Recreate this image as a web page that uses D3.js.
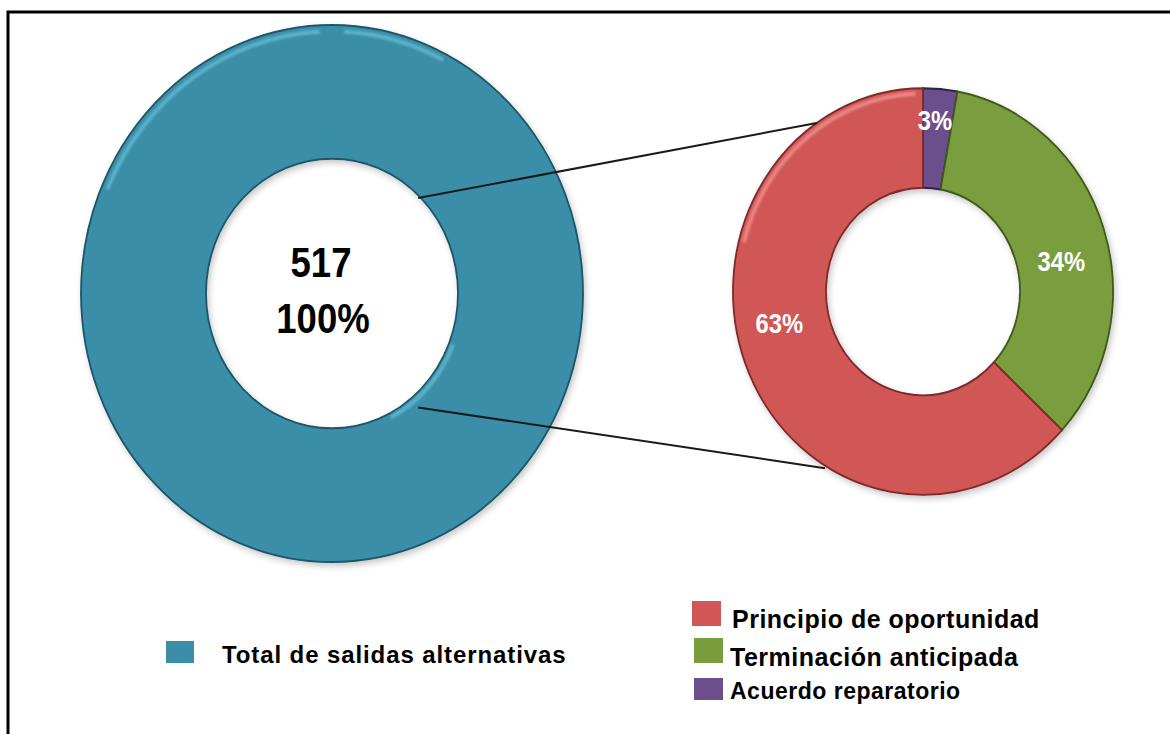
<!DOCTYPE html>
<html>
<head>
<meta charset="utf-8">
<script src="https://cdn.jsdelivr.net/npm/d3@7"></script>
<style>
  body { margin: 0; background: #fff; }
  .center-label { font-family: "Liberation Sans", Arial, sans-serif; font-weight: bold; fill: #000; }
  .pct-label { font-family: "Liberation Sans", Arial, sans-serif; font-weight: bold; fill: #fff; }
  .legend-text { font-family: "Liberation Sans", Arial, sans-serif; font-weight: bold; fill: #000; }
</style>
</head>
<body>
<svg id="chart"></svg>
<script>
// data
const totalName = ["Total de salidas alternativas"];
const totalCount = [517];
const totalPct = ["100%"];

const categories = ["Acuerdo reparatorio", "Terminación anticipada", "Principio de oportunidad"];
const counts = [15, 176, 326];
const percents = ["3%", "34%", "63%"];
const legendOrder = ["Principio de oportunidad", "Terminación anticipada", "Acuerdo reparatorio"];

const colors = {
    "Total de salidas alternativas": "#3a8ea8",
    "Principio de oportunidad": "#d15757",
    "Terminación anticipada": "#7a9d3c",
    "Acuerdo reparatorio": "#6a4f8c"
};
const strokes = {
    "Total de salidas alternativas": "#1e5668",
    "Principio de oportunidad": "#7d2a2a",
    "Terminación anticipada": "#3f5a1a",
    "Acuerdo reparatorio": "#2e2145"
};

var wtot = 1170, htot = 734;
const narrow = 0.85; // squeeze text to look like a narrow face

const svg = d3.select("#chart")
    .attr("width", wtot)
    .attr("height", htot);

const defs = svg.append("defs");
const shadow = defs.append("filter")
    .attr("id", "shadow")
    .attr("x", "-10%").attr("y", "-10%")
    .attr("width", "120%").attr("height", "120%");
shadow.append("feDropShadow")
    .attr("dx", 2).attr("dy", 3)
    .attr("stdDeviation", 3)
    .attr("flood-color", "#000")
    .attr("flood-opacity", 0.22);
defs.append("filter")
    .attr("id", "soft")
    .append("feGaussianBlur")
    .attr("stdDeviation", 1.2);

// frame
svg.append("rect")
    .attr("x", 8).attr("y", 12)
    .attr("width", wtot).attr("height", htot)
    .attr("fill", "none")
    .attr("stroke", "#000")
    .attr("stroke-width", 3);

const squash = 1.07; // donuts are slightly taller than wide

// big donut
var big = { cx: 332, cy: 293.5, outer: 251, inner: 126 };
const bigArcs = d3.pie().sort(null)(totalCount);
const bigArc = d3.arc().innerRadius(big.inner).outerRadius(big.outer);

const gBig = svg.append("g")
    .attr("transform", `translate(${big.cx},${big.cy}) scale(1,${squash})`)
    .attr("filter", "url(#shadow)");

gBig.selectAll("path")
    .data(bigArcs)
    .join("path")
    .attr("d", bigArc)
    .attr("fill", (d, i) => colors[totalName[i]])
    .attr("stroke", (d, i) => strokes[totalName[i]])
    .attr("stroke-width", 1.8);

// soft highlights along the rims
const hl = gBig.append("g").attr("filter", "url(#soft)").attr("opacity", 0.55);
hl.append("path")
    .attr("d", d3.arc().innerRadius(big.outer - 8).outerRadius(big.outer - 4)
        .startAngle(-Math.PI * 0.37).endAngle(-0.05)())
    .attr("fill", "#79cfe6");
hl.append("path")
    .attr("d", d3.arc().innerRadius(big.outer - 8).outerRadius(big.outer - 4)
        .startAngle(0.05).endAngle(Math.PI * 0.15)())
    .attr("fill", "#79cfe6");
hl.append("path")
    .attr("d", d3.arc().innerRadius(big.inner + 2).outerRadius(big.inner + 6)
        .startAngle(Math.PI * 0.62).endAngle(Math.PI * 0.85)())
    .attr("fill", "#79cfe6");

// small donut
var small = { cx: 923, cy: 291.5, outer: 190, inner: 97 };
const smallArcs = d3.pie().sort(null)(counts);
const smallArc = d3.arc().innerRadius(small.inner).outerRadius(small.outer);

const gSmall = svg.append("g")
    .attr("transform", `translate(${small.cx},${small.cy}) scale(1,${squash})`)
    .attr("filter", "url(#shadow)");

gSmall.selectAll("path.slice")
    .data(smallArcs)
    .join("path")
    .attr("class", "slice")
    .attr("d", smallArc)
    .attr("fill", (d, i) => colors[categories[i]])
    .attr("stroke", (d, i) => strokes[categories[i]])
    .attr("stroke-width", 1.8);

// highlight on the red slice rim
gSmall.append("path")
    .attr("d", d3.arc().innerRadius(small.outer - 7).outerRadius(small.outer - 3)
        .startAngle(-Math.PI * 0.42).endAngle(-0.04)())
    .attr("fill", "#f59a95")
    .attr("filter", "url(#soft)")
    .attr("opacity", 0.7);

// connector lines, from the big hole to the small donut
function pt(c, angle, r) {
    return [c.cx + r * Math.sin(angle), c.cy - r * Math.cos(angle) * squash];
}
const deg = Math.PI / 180;
const connectors = [
    [pt(big, 44 * deg, big.inner - 2), pt(small, -34 * deg, small.outer)],
    [pt(big, 141 * deg, big.inner + 11), pt(small, 210.7 * deg, small.outer + 2)]
];
svg.append("g")
    .selectAll("line")
    .data(connectors)
    .join("line")
    .attr("x1", d => d[0][0]).attr("y1", d => d[0][1])
    .attr("x2", d => d[1][0]).attr("y2", d => d[1][1])
    .attr("stroke", "#1a1a1a")
    .attr("stroke-width", 2);

// percent labels on the small donut
const labelArc = d3.arc().innerRadius((small.inner + small.outer) / 2).outerRadius((small.inner + small.outer) / 2);
const labelNudge = [[-1, -19], [2, 18], [-12, -30]];
svg.append("g")
    .selectAll("text")
    .data(smallArcs)
    .join("text")
    .attr("class", "pct-label")
    .attr("text-anchor", "middle")
    .attr("font-size", 28)
    .attr("transform", (d, i) => {
        const c = labelArc.centroid(d);
        const x = small.cx + c[0] + labelNudge[i][0];
        const y = small.cy + c[1] * squash + labelNudge[i][1];
        return `translate(${x},${y}) scale(${narrow},1)`;
    })
    .attr("dy", "0.36em")
    .text((d, i) => percents[i]);

// center labels
svg.append("text")
    .attr("class", "center-label")
    .attr("text-anchor", "middle")
    .attr("font-size", 43)
    .attr("transform", `translate(${big.cx - 11},277) scale(${narrow},1)`)
    .text(totalCount[0]);
svg.append("text")
    .attr("class", "center-label")
    .attr("text-anchor", "middle")
    .attr("font-size", 43)
    .attr("transform", `translate(${big.cx - 9},333) scale(${narrow},1)`)
    .text(totalPct[0]);

// legend, left
const legLeft = svg.append("g").attr("transform", "translate(166,641)");
legLeft.append("rect")
    .attr("width", 28).attr("height", 22)
    .attr("fill", colors[totalName[0]]);
legLeft.append("text")
    .attr("class", "legend-text")
    .attr("x", 56).attr("y", 22)
    .attr("font-size", 24)
    .attr("letter-spacing", 0.9)
    .text(totalName[0]);

// legend, right
const legY = [601, 638, 678];
const legSize = [25, 25, 23];
const legRight = svg.append("g")
    .selectAll("g")
    .data(legendOrder)
    .join("g")
    .attr("transform", (d, i) => `translate(${i ? 694 : 692},${legY[i]})`);
legRight.append("rect")
    .attr("width", 29)
    .attr("height", (d, i) => i == 2 ? 22 : 25)
    .attr("fill", d => colors[d]);
legRight.append("text")
    .attr("class", "legend-text")
    .attr("x", (d, i) => i ? 36 : 40)
    .attr("y", (d, i) => [27, 28, 21][i])
    .attr("font-size", (d, i) => legSize[i])
    .attr("letter-spacing", 0.5)
    .text(d => d);
</script>
</body>
</html>
